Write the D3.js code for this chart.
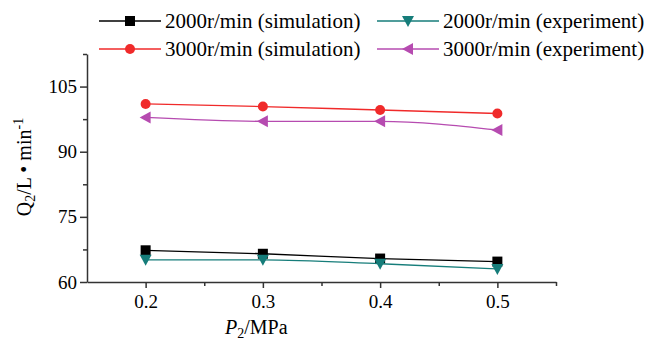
<!DOCTYPE html>
<html>
<head>
<meta charset="utf-8">
<script src="https://cdn.jsdelivr.net/npm/d3@7"></script>
<style>
  body { margin: 0; background: #fff; }
  text { font-family: "Liberation Serif", "Times New Roman", serif; fill: #000; }
</style>
</head>
<body>
<svg id="chart" width="651" height="341"></svg>
<script>
// data
const pressure = [0.2, 0.3, 0.4, 0.5];
const sim2000 = [67.3, 66.5, 65.4, 64.7];
const exp2000 = [65.1, 65.1, 64.2, 63.0];
const sim3000 = [101.0, 100.4, 99.6, 98.8];
const exp3000 = [97.9, 97.0, 97.0, 95.0];
const xTicks = [0.2, 0.3, 0.4, 0.5];
const xMinor = [0.25, 0.35, 0.45, 0.55];
const yTicks = [60, 75, 90, 105];
const yMinor = [67.5, 82.5, 97.5, 112.5];

const series = [
    { name: "2000r/min (simulation)", values: sim2000, color: "#000000", marker: "square" },
    { name: "2000r/min (experiment)", values: exp2000, color: "#167d7a", marker: "down" },
    { name: "3000r/min (simulation)", values: sim3000, color: "#f02a2a", marker: "circle" },
    { name: "3000r/min (experiment)", values: exp3000, color: "#b64bb0", marker: "left" }
];

const svg = d3.select("#chart");
const x = d3.scaleLinear().domain([0.15, 0.55]).range([87, 556]);
const y = d3.scaleLinear().domain([60, 112.5]).range([282, 54]);

// axes
const axisColor = "#333";
const gx = svg.append("g").attr("transform", "translate(0,282)");
gx.call(d3.axisBottom(x).tickValues(xTicks).tickSize(6).tickSizeOuter(0).tickFormat(d3.format(".1f")));
gx.append("g").call(d3.axisBottom(x).tickValues(xMinor).tickSize(4).tickSizeOuter(0).tickFormat(""))
    .select(".domain").remove();

const gy = svg.append("g").attr("transform", "translate(87,0)");
gy.call(d3.axisLeft(y).tickValues(yTicks).tickSize(7).tickSizeOuter(0));
gy.append("g").call(d3.axisLeft(y).tickValues(yMinor).tickSize(4).tickSizeOuter(0).tickFormat(""))
    .select(".domain").remove();

svg.selectAll(".domain, .tick line").attr("stroke", axisColor).attr("stroke-width", 1.5);
svg.selectAll(".tick text")
    .style("font-family", "'Liberation Serif', 'Times New Roman', serif")
    .style("font-size", "19px")
    .attr("fill", "#000");
gx.selectAll(".tick text").attr("dy", "0.9em");
gy.selectAll(".tick text").attr("x", -10);

// axis titles
const xt = svg.append("text").attr("x", 225).attr("y", 334).attr("font-size", "20px");
xt.append("tspan").attr("font-style", "italic").text("P");
xt.append("tspan").attr("font-size", "14px").attr("dy", 4).text("2");
xt.append("tspan").attr("dy", -4).text("/MPa");

const yt = svg.append("text")
    .attr("transform", "translate(31,167) rotate(-90)")
    .attr("text-anchor", "middle")
    .attr("font-size", "20px");
yt.append("tspan").text("Q");
yt.append("tspan").attr("font-size", "14px").attr("dy", 4).text("2");
yt.append("tspan").attr("dy", -4).text("/L \u2022 min");
yt.append("tspan").attr("font-size", "14px").attr("dy", -8).text("-1");

// marker drawing
function drawMarker(g, type, cx, cy, color) {
    if (type === "square") {
        g.append("rect").attr("x", cx - 5).attr("y", cy - 5).attr("width", 10).attr("height", 10).attr("fill", color);
    } else if (type === "circle") {
        g.append("circle").attr("cx", cx).attr("cy", cy).attr("r", 5).attr("fill", color);
    } else if (type === "down") {
        g.append("path").attr("d", `M${cx - 6},${cy - 5}L${cx + 6},${cy - 5}L${cx},${cy + 6}Z`).attr("fill", color);
    } else if (type === "left") {
        g.append("path").attr("d", `M${cx - 6},${cy}L${cx + 5},${cy - 6}L${cx + 5},${cy + 6}Z`).attr("fill", color);
    }
}

const line = d3.line().x((d, i) => x(pressure[i])).y(d => y(d)).curve(d3.curveMonotoneX);

series.forEach(s => {
    const g = svg.append("g");
    g.append("path").datum(s.values).attr("d", line)
        .attr("fill", "none").attr("stroke", s.color).attr("stroke-width", 1.3);
    s.values.forEach((v, i) => drawMarker(g, s.marker, x(pressure[i]), y(v), s.color));
});

// legend
const legendPos = [[99, 21], [377, 21], [99, 49], [377, 49]];
series.forEach((s, i) => {
    const [lx, ly] = legendPos[i];
    const g = svg.append("g");
    g.append("line").attr("x1", lx).attr("x2", lx + 62).attr("y1", ly).attr("y2", ly)
        .attr("stroke", s.color).attr("stroke-width", 1.5);
    drawMarker(g, s.marker, lx + 31, ly, s.color);
    g.append("text").attr("x", lx + 66).attr("y", ly + 7).attr("font-size", "21px").text(s.name);
});
</script>
</body>
</html>
